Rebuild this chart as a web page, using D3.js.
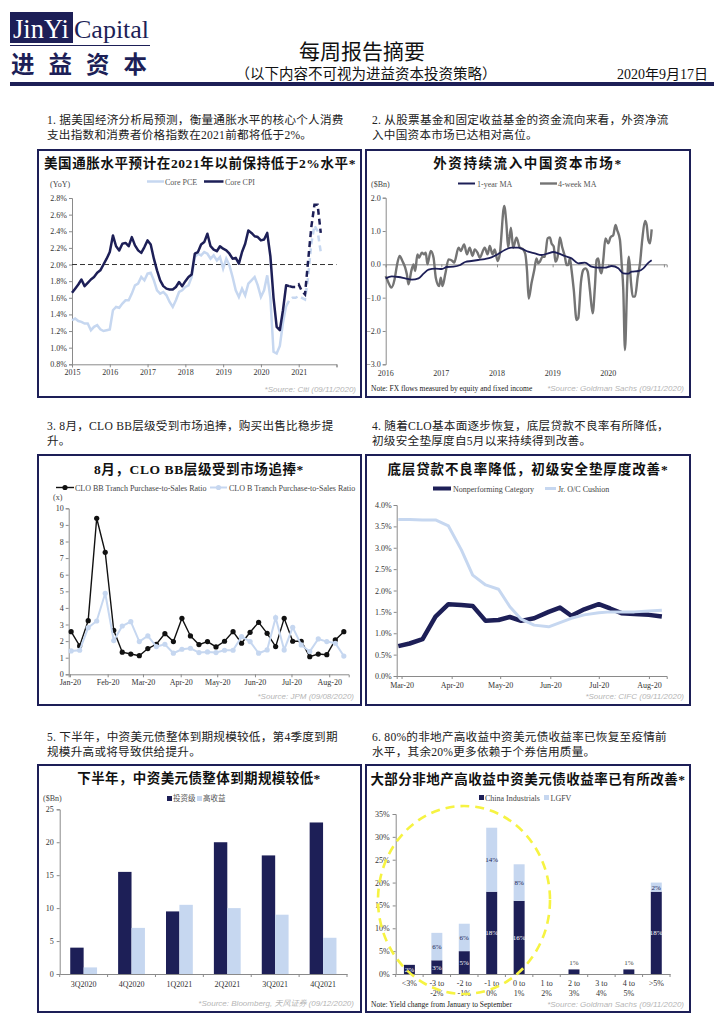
<!DOCTYPE html>
<html><head><meta charset="utf-8">
<script src="https://cdn.jsdelivr.net/npm/d3@7"></script>
<style>
body{margin:0;background:#fff;}
</style></head><body>
<svg id="page" width="724" height="1024"></svg>
<script>
// ---------------- DATA ----------------
// Chart 1: US core inflation, monthly from Jan 2015
const inflationStart = 2015;
const coreCPI = [1.66,1.71,1.76,1.82,1.74,1.78,1.82,1.85,1.90,1.93,2.00,2.07,
 2.15,2.35,2.22,2.17,2.25,2.26,2.22,2.33,2.23,2.17,2.14,2.21,
 2.29,2.24,2.07,1.93,1.81,1.74,1.71,1.70,1.70,1.73,1.79,1.74,
 1.80,1.85,1.88,2.13,2.15,2.24,2.27,2.37,2.22,2.18,2.16,2.22,
 2.19,2.17,2.13,2.07,2.08,2.01,2.15,2.25,2.41,2.38,2.34,2.33,
 2.29,2.30,2.38,2.10,1.60,1.25,1.21,1.45,1.75,1.74];
const coreCPIForecast = [1.74,1.73,1.73,1.76,1.68,1.64,2.05,2.45,2.72,2.72,2.38]; // from month 69
const corePCE = [1.33,1.35,1.32,1.31,1.29,1.29,1.21,1.25,1.27,1.22,1.20,1.21,
 1.22,1.45,1.49,1.48,1.53,1.57,1.57,1.65,1.75,1.77,1.85,1.81,
 1.89,1.90,1.81,1.69,1.65,1.67,1.63,1.55,1.49,1.57,1.67,1.69,
 1.73,1.75,1.85,2.09,2.13,2.11,2.15,2.13,2.07,2.11,2.05,2.09,
 1.95,2.07,1.99,1.85,1.69,1.61,1.71,1.63,1.77,1.81,1.85,1.75,
 1.61,1.69,1.87,1.60,0.95,0.93,1.02,1.30,1.50];
const corePCEForecast = [1.50,1.57,1.60,1.60,1.62,1.60,1.58,1.85,2.25,2.47,2.40,2.15]; // from month 68
const inflationYears = [2015,2016,2017,2018,2019,2020,2021,2022];
const inflationTicks = [0.8,1.0,1.2,1.4,1.6,1.8,2.0,2.2,2.4,2.6,2.8];

// Chart 2: foreign flows into China ($Bn)
const flow4wT = [2016.00,2016.05,2016.10,2016.16,2016.20,2016.25,2016.30,2016.35,2016.38,2016.41,
 2016.46,2016.50,2016.53,2016.57,2016.60,2016.65,2016.69,2016.72,2016.75,2016.81,
 2016.86,2016.90,2016.96,2016.99,2017.02,2017.07,2017.13,2017.20,2017.23,2017.31,
 2017.35,2017.41,2017.46,2017.51,2017.56,2017.60,2017.65,2017.69,2017.78,2017.83,
 2017.87,2017.92,2017.96,2018.01,2018.05,2018.13,2018.17,2018.20,2018.25,2018.29,
 2018.35,2018.41,2018.47,2018.51,2018.54,2018.57,2018.62,2018.67,2018.71,2018.74,
 2018.77,2018.82,2018.86,2018.91,2018.95,2018.98,2019.02,2019.05,2019.09,2019.13,
 2019.17,2019.22,2019.25,2019.28,2019.31,2019.34,2019.38,2019.43,2019.46,2019.51,
 2019.55,2019.59,2019.63,2019.67,2019.72,2019.76,2019.79,2019.82,2019.85,2019.88,
 2019.91,2019.95,2020.00,2020.04,2020.09,2020.13,2020.16,2020.21,2020.24,2020.27,
 2020.30,2020.34,2020.37,2020.41,2020.44,2020.48,2020.53,2020.57,2020.61,2020.66,
 2020.69,2020.72,2020.75,2020.78];
const flow4wV = [-0.35,-0.55,-0.70,-0.45,-0.05,0.25,0.10,-0.10,-0.30,-0.60,
 -0.20,0.00,-0.20,0.30,0.20,0.35,0.30,0.35,0.00,0.40,
 0.20,-0.40,-0.65,-0.40,-0.65,-0.30,0.15,0.10,0.05,0.50,
 0.40,0.60,0.30,0.50,0.25,0.45,0.35,0.20,0.50,0.30,
 0.55,0.30,0.45,0.10,0.30,1.75,1.20,0.50,1.10,0.50,
 0.80,0.50,0.45,0.30,-0.20,-1.03,-0.57,-0.17,0.18,0.03,
 0.08,0.23,0.23,0.78,0.81,0.63,0.53,0.08,0.23,0.81,
 0.53,0.23,-0.02,-0.02,0.18,-0.17,-0.77,-1.67,-1.62,-0.52,
 -0.17,-0.12,-0.22,-0.77,-1.47,-0.67,0.13,0.18,-0.17,-0.27,
 0.13,0.78,0.63,0.81,0.88,1.18,1.03,0.73,0.03,-0.77,
 -2.57,-0.57,0.23,-0.57,-0.97,-0.97,-0.37,0.03,0.73,1.30,
 1.18,0.73,0.63,1.05];
const flow1yT = [2016.00,2016.11,2016.23,2016.35,2016.47,2016.59,2016.68,2016.77,2016.89,
 2017.01,2017.10,2017.22,2017.34,2017.43,2017.54,2017.66,2017.78,2017.90,
 2018.02,2018.14,2018.26,2018.38,2018.47,2018.56,2018.68,2018.80,2018.92,
 2019.01,2019.10,2019.22,2019.34,2019.46,2019.58,2019.70,2019.82,2019.94,
 2020.06,2020.18,2020.27,2020.36,2020.42,2020.54,2020.63,2020.71,2020.78];
const flow1yV = [-0.42,-0.36,-0.38,-0.42,-0.46,-0.42,-0.28,-0.16,-0.13,
 -0.14,-0.08,-0.07,-0.02,0.07,0.10,0.13,0.16,0.21,
 0.31,0.43,0.50,0.50,0.45,0.38,0.33,0.28,0.33,
 0.37,0.33,0.25,0.18,0.03,0.05,-0.07,-0.10,-0.10,
 -0.05,-0.12,-0.27,-0.28,-0.22,-0.20,-0.12,0.03,0.12];
const flowYears = [2016,2017,2018,2019,2020];
const flowTicks = [-3,-2,-1,0,1,2];

// Chart 3: CLO purchase-to-sales ratio (weekly)
const cloDates = ["2020-01-02","2020-01-09","2020-01-16","2020-01-23","2020-01-30",
 "2020-02-06","2020-02-13","2020-02-20","2020-02-27","2020-03-05","2020-03-12","2020-03-19","2020-03-26",
 "2020-04-02","2020-04-09","2020-04-16","2020-04-23","2020-04-30","2020-05-07","2020-05-14","2020-05-21","2020-05-28",
 "2020-06-04","2020-06-11","2020-06-18","2020-06-25","2020-07-02","2020-07-09","2020-07-16","2020-07-23","2020-07-30",
 "2020-08-06","2020-08-13"];
const bbRatio = [2.57,1.71,3.23,9.40,7.35,2.65,1.33,1.22,1.12,1.55,1.81,2.45,1.97,3.37,2.31,1.79,1.97,1.65,1.99,2.57,
 1.87,2.53,3.13,2.47,1.67,3.37,1.99,1.99,1.06,1.22,1.18,2.07,2.57];
const bRatio = [1.41,1.45,2.81,3.21,4.88,2.03,2.91,3.17,1.97,2.31,1.67,1.81,1.27,1.51,1.57,1.31,1.35,1.31,1.45,1.45,
 2.27,1.97,1.27,1.47,3.41,1.47,2.83,1.77,1.37,2.13,1.97,1.87,1.10];
const cloTicks = [0,1,2,3,4,5,6,7,8,9,10];

// Chart 4: Nonperforming category vs Jr. O/C cushion (%)
const npDates = ["2020-02-28","2020-03-06","2020-03-14","2020-03-22","2020-03-30","2020-04-07","2020-04-14","2020-04-22",
 "2020-04-30","2020-05-07","2020-05-14","2020-05-22","2020-05-31","2020-06-07","2020-06-14","2020-06-22","2020-07-01",
 "2020-07-08","2020-07-15","2020-07-23","2020-08-01","2020-08-09"];
const nonperforming = [0.70,0.76,0.86,1.39,1.68,1.66,1.64,1.29,1.31,1.38,1.29,1.35,1.50,1.60,1.41,1.56,1.68,1.58,1.47,1.45,1.43,1.39];
const ocCushion = [3.66,3.66,3.65,3.65,3.51,2.95,2.36,2.13,2.03,1.62,1.33,1.19,1.15,1.25,1.35,1.43,1.48,1.50,1.50,1.50,1.52,1.54];
const npTicks = [0,0.5,1.0,1.5,2.0,2.5,3.0,3.5,4.0];

// Chart 5: maturities ($Bn)
const quarters = ["3Q2020","4Q2020","1Q2021","2Q2021","3Q2021","4Q2021"];
const investmentGrade = [4,15.5,9.5,20,18,23];
const highYield = [1,7,10.5,10,9,5.5];
const maturityTicks = [0,5,10,15,20,25];

// Chart 6: yield change distribution (%)
const yieldBuckets = [["<3%"],["-3 to","-2%"],["-2 to","-1%"],["-1 to","0%"],["0 to","1%"],["1 to","2%"],["2 to","3%"],["3 to","4%"],["4 to","5%"],[">5%"]];
const chinaIndustrials = [2,3,5,18,16,0,1,0,1,18];
const lgfv = [0,6,6,14,8,0,0,0,0,2];
const distTicks = [0,5,10,15,20,25,30,35];

// ---------------- DRAWING ----------------
const svg = d3.select('#page');
const NAVY = '#1d1f57', LIGHT = '#c6d7f0', AX = '#8a8a8a', TXT = '#333';
const SERIF = '"Liberation Serif","Noto Sans CJK SC",serif';
const SANS = '"Liberation Sans","Noto Sans CJK SC",sans-serif';

function text(x, y, s, o = {}) {
  const t = svg.append('text').attr('x', x).attr('y', y).text(s)
    .attr('font-family', o.family || SERIF)
    .attr('font-size', o.size || 8)
    .attr('fill', o.fill || TXT)
    .attr('text-anchor', o.anchor || 'start');
  if (o.weight) t.attr('font-weight', o.weight);
  if (o.style) t.attr('font-style', o.style);
  if (o.ls) t.attr('letter-spacing', o.ls);
  return t;
}
function styleAxis(g, fs) {
  g.attr('font-family', SERIF).attr('font-size', fs || 8);
  g.select('.domain').attr('stroke', AX);
  g.selectAll('.tick line').attr('stroke', AX);
  g.selectAll('.tick text').attr('fill', TXT);
}
function box(x, y, w, h) {
  svg.append('rect').attr('x', x).attr('y', y).attr('width', w).attr('height', h)
    .attr('fill', 'none').attr('stroke', NAVY).attr('stroke-width', 2);
}
function source(x, y, s) { text(x, y, s, {family: SANS, size: 8, fill: '#b5b5b5', style: 'italic', anchor: 'end'}); }
function title(x, y, s, ls) { text(x, y, s, {size: 13.5, weight: 'bold', fill: '#111', anchor: 'middle', ls: ls}); }
function hline(x1, x2, y, color, w, dash) {
  const l = svg.append('line').attr('x1', x1).attr('x2', x2).attr('y1', y).attr('y2', y)
    .attr('stroke', color).attr('stroke-width', w);
  if (dash) l.attr('stroke-dasharray', dash);
  return l;
}

// ----- Header -----
svg.append('rect').attr('x', 10).attr('y', 12).attr('width', 63).attr('height', 31).attr('fill', NAVY);
text(13, 38, 'JinYi', {size: 26.5, fill: '#fff'});
text(74, 38, 'Capital', {size: 26, fill: NAVY});
hline(10, 150, 45.5, NAVY, 1);
text(11, 73, '进益资本', {family: '"Noto Sans CJK SC",sans-serif', size: 23.5, fill: NAVY, weight: 'bold', ls: 14});
text(362, 59, '每周报告摘要', {size: 21, fill: '#111', anchor: 'middle'});
text(366, 79, '（以下内容不可视为进益资本投资策略）', {size: 14.5, fill: '#111', anchor: 'middle'});
text(708, 79, '2020年9月17日', {size: 14, fill: '#111', anchor: 'end'});
svg.append('rect').attr('x', 10).attr('y', 82).attr('width', 704).attr('height', 4).attr('fill', NAVY);

// ----- Paragraphs -----
const para = (x, y, lines) => lines.forEach((l, i) => text(x, y + i * 15, l, {size: 11.6, fill: '#222', ls: 0.25}));
para(47, 124, ['1. 据美国经济分析局预测，衡量通胀水平的核心个人消费', '支出指数和消费者价格指数在2021前都将低于2%。']);
para(372, 124, ['2. 从股票基金和固定收益基金的资金流向来看，外资净流', '入中国资本市场已达相对高位。']);
para(47, 430, ['3. 8月，CLO BB层级受到市场追捧，购买出售比稳步提', '升。']);
para(372, 430, ['4. 随着CLO基本面逐步恢复，底层贷款不良率有所降低，', '初级安全垫厚度自5月以来持续得到改善。']);
para(47, 741, ['5. 下半年，中资美元债整体到期规模较低，第4季度到期', '规模升高或将导致供给提升。']);
para(372, 741, ['6. 80%的非地产高收益中资美元债收益率已恢复至疫情前', '水平，其余20%更多依赖于个券信用质量。']);

// ----- Boxes -----
box(38, 150, 323, 247); box(366, 150, 324, 247);
box(38, 455, 323, 250); box(366, 455, 324, 250);
box(38, 765, 323, 247); box(366, 765, 324, 247);

// ===== Chart 1 =====
{
  const x = d3.scaleLinear().domain([2015, 2022]).range([72, 336.5]);
  const y = d3.scaleLinear().domain([0.8, 2.8]).range([364.3, 198]);
  title(200, 168, '美国通胀水平预计在2021年以前保持低于2%水平*', 0.6);
  svg.append('g').attr('transform', 'translate(72,0)')
    .call(d3.axisLeft(y).tickValues(inflationTicks).tickFormat(d => d.toFixed(1) + '%').tickSize(3).tickPadding(2))
    .call(styleAxis);
  svg.append('g').attr('transform', `translate(0,${y(0.8)})`)
    .call(d3.axisBottom(x).tickValues(inflationYears).tickFormat(d => d === 2022 ? '' : d).tickSize(3).tickPadding(2))
    .call(styleAxis);
  hline(x(2015), x(2022), y(2.0), '#333', 1, '5,3');
  const mx = i => x(inflationStart + i / 12);
  const line = off => d3.line().x((d, i) => mx(i + off)).y(d => y(d));
  svg.append('path').datum(corePCE).attr('d', line(0)).attr('fill', 'none').attr('stroke', LIGHT).attr('stroke-width', 2.5);
  svg.append('path').datum(corePCEForecast).attr('d', line(68)).attr('fill', 'none').attr('stroke', LIGHT).attr('stroke-width', 2.5).attr('stroke-dasharray', '6,4');
  svg.append('path').datum(coreCPI).attr('d', line(0)).attr('fill', 'none').attr('stroke', NAVY).attr('stroke-width', 2.5).attr('stroke-linejoin', 'round');
  svg.append('path').datum(coreCPIForecast).attr('d', line(69)).attr('fill', 'none').attr('stroke', NAVY).attr('stroke-width', 2.5).attr('stroke-dasharray', '6,4');
  hline(147, 164, 181.5, LIGHT, 2.5);
  text(165, 184.5, 'Core PCE', {size: 8, fill: '#555'});
  hline(204, 223.5, 181.5, NAVY, 2.5);
  text(225, 184.5, 'Core CPI', {size: 8, fill: '#555'});
  text(50, 187, '(YoY)', {size: 8, fill: '#444'});
  source(356, 392, '*Source: Citi (09/11/2020)');
}

// ===== Chart 2 =====
{
  const x = d3.scaleLinear().domain([2016, 2021.05]).range([385.7, 666.7]);
  const y = d3.scaleLinear().domain([-3, 2]).range([364.3, 197.7]);
  title(528, 168, '外资持续流入中国资本市场*', 1.6);
  svg.append('g').attr('transform', 'translate(385.7,0)')
    .call(d3.axisLeft(y).tickValues(flowTicks).tickSize(3).tickPadding(2))
    .call(styleAxis);
  svg.append('g').attr('transform', `translate(0,${y(0)})`)
    .call(d3.axisBottom(x).tickValues([2016, 2017, 2018, 2019, 2020, 2021]).tickFormat('').tickSize(3))
    .call(styleAxis);
  flowYears.forEach(yr => text(x(yr), 376, yr, {size: 8, anchor: 'middle'}));
  const pts4 = flow4wT.map((t, i) => [t, flow4wV[i]]);
  const pts1 = flow1yT.map((t, i) => [t, flow1yV[i]]);
  const ln = d3.line().x(d => x(d[0])).y(d => y(d[1])).curve(d3.curveMonotoneX);
  svg.append('path').datum(pts4).attr('d', ln).attr('fill', 'none').attr('stroke', '#747474').attr('stroke-width', 2.4).attr('stroke-linejoin', 'round');
  svg.append('path').datum(pts1).attr('d', ln).attr('fill', 'none').attr('stroke', NAVY).attr('stroke-width', 1.8);
  hline(458, 475, 183.5, NAVY, 2);
  text(477, 186.5, '1-year MA', {size: 8, fill: '#555'});
  hline(540, 557, 183.5, '#747474', 2.4);
  text(558, 186.5, '4-week MA', {size: 8, fill: '#555'});
  text(371, 186.5, '($Bn)', {size: 8, fill: '#444'});
  text(371, 391, 'Note: FX flows measured by equity and fixed  income', {size: 7.5, fill: '#222'});
  source(684, 391, '*Source: Goldman Sachs (09/11/2020)');
}

// ===== Chart 3 =====
{
  const parse = d3.timeParse('%Y-%m-%d');
  const x = d3.scaleTime().domain([new Date(2019, 11, 31), new Date(2020, 7, 17)]).range([68.7, 348.7]);
  const y = d3.scaleLinear().domain([0, 10]).range([674.3, 508.3]);
  title(199, 474, '8月，CLO BB层级受到市场追捧*', 0.6);
  svg.append('g').attr('transform', 'translate(68.7,0)')
    .call(d3.axisLeft(y).tickValues(cloTicks).tickSize(3).tickPadding(2))
    .call(styleAxis);
  svg.append('g').attr('transform', `translate(0,${y(0)})`)
    .call(d3.axisBottom(x).ticks(d3.timeMonth.every(1)).tickFormat(d3.timeFormat('%b-%y')).tickSize(3).tickPadding(2))
    .call(styleAxis);
  const bb = cloDates.map((d, i) => [parse(d), bbRatio[i]]);
  const b = cloDates.map((d, i) => [parse(d), bRatio[i]]);
  const ln = d3.line().x(d => x(d[0])).y(d => y(d[1]));
  svg.append('path').datum(bb).attr('d', ln).attr('fill', 'none').attr('stroke', '#111').attr('stroke-width', 1.4);
  svg.selectAll('.bbdot').data(bb).enter().append('circle').attr('cx', d => x(d[0])).attr('cy', d => y(d[1])).attr('r', 2.6).attr('fill', '#111');
  svg.append('path').datum(b).attr('d', ln).attr('fill', 'none').attr('stroke', LIGHT).attr('stroke-width', 2);
  svg.selectAll('.bdot').data(b).enter().append('circle').attr('cx', d => x(d[0])).attr('cy', d => y(d[1])).attr('r', 2.6).attr('fill', LIGHT);
  hline(56, 74, 487.5, '#111', 1.4);
  svg.append('circle').attr('cx', 65).attr('cy', 487.5).attr('r', 2.6).attr('fill', '#111');
  text(75, 490.5, 'CLO BB Tranch Purchase-to-Sales Ratio', {size: 8, fill: '#444'});
  hline(210, 227, 487.5, LIGHT, 2);
  svg.append('circle').attr('cx', 218.5).attr('cy', 487.5).attr('r', 2.6).attr('fill', LIGHT);
  text(229, 490.5, 'CLO B Tranch Purchase-to-Sales Ratio', {size: 8, fill: '#444'});
  text(53, 499.5, '(x)', {size: 8, fill: '#444'});
  source(354, 699, '*Source: JPM (09/08/2020)');
}

// ===== Chart 4 =====
{
  const parse = d3.timeParse('%Y-%m-%d');
  const x = d3.scaleTime().domain([new Date(2020, 1, 27), new Date(2020, 7, 12)]).range([396.7, 666.7]);
  const y = d3.scaleLinear().domain([0, 4]).range([676, 505]);
  title(528, 474, '底层贷款不良率降低，初级安全垫厚度改善*', 0.9);
  svg.append('g').attr('transform', 'translate(396.7,0)')
    .call(d3.axisLeft(y).tickValues(npTicks).tickFormat(d => d.toFixed(1) + '%').tickSize(3).tickPadding(2))
    .call(styleAxis);
  svg.append('g').attr('transform', `translate(0,${y(0)})`)
    .call(d3.axisBottom(x).ticks(d3.timeMonth.every(1)).tickFormat(d3.timeFormat('%b-%y')).tickSize(3).tickPadding(3))
    .call(styleAxis);
  const np = npDates.map((d, i) => [parse(d), nonperforming[i]]);
  const oc = npDates.map((d, i) => [parse(d), ocCushion[i]]);
  const ln = d3.line().x(d => x(d[0])).y(d => y(d[1]));
  svg.append('path').datum(np).attr('d', ln).attr('fill', 'none').attr('stroke', NAVY).attr('stroke-width', 4.5).attr('stroke-linejoin', 'round');
  svg.append('path').datum(oc).attr('d', ln).attr('fill', 'none').attr('stroke', LIGHT).attr('stroke-width', 3).attr('stroke-linejoin', 'round');
  hline(433, 451, 488.5, NAVY, 4);
  text(453, 491.5, 'Nonperforming Category', {size: 8, fill: '#444'});
  hline(545, 556, 488.5, LIGHT, 3);
  text(558, 491.5, 'Jr. O/C Cushion', {size: 8, fill: '#444'});
  source(684, 699, '*Source: CIFC (09/11/2020)');
}

// ===== Chart 5 =====
{
  const x = d3.scaleBand().domain(quarters).range([59.7, 347]);
  const y = d3.scaleLinear().domain([0, 25]).range([974, 809.3]);
  title(199, 783, '下半年，中资美元债整体到期规模较低*', 0.4);
  svg.append('g').attr('transform', 'translate(59.7,0)')
    .call(d3.axisLeft(y).tickValues(maturityTicks).tickSize(3).tickPadding(3))
    .call(styleAxis);
  const bw = x.bandwidth();
  svg.selectAll('.ig').data(quarters).enter().append('rect')
    .attr('x', d => x(d) + bw * 0.22).attr('width', bw * 0.28)
    .attr('y', (d, i) => y(investmentGrade[i])).attr('height', (d, i) => y(0) - y(investmentGrade[i])).attr('fill', NAVY);
  svg.selectAll('.hy').data(quarters).enter().append('rect')
    .attr('x', d => x(d) + bw * 0.5).attr('width', bw * 0.28)
    .attr('y', (d, i) => y(highYield[i])).attr('height', (d, i) => y(0) - y(highYield[i])).attr('fill', LIGHT);
  svg.append('g').attr('transform', `translate(0,${y(0)})`)
    .call(d3.axisBottom(x).tickSize(0).tickPadding(7))
    .call(styleAxis);
  quarters.forEach((q, i) => svg.append('line').attr('x1', x(q)).attr('x2', x(q)).attr('y1', y(0)).attr('y2', y(0) + 3).attr('stroke', AX));
  svg.append('line').attr('x1', 347).attr('x2', 347).attr('y1', y(0)).attr('y2', y(0) + 3).attr('stroke', AX);
  svg.append('rect').attr('x', 167).attr('y', 796).attr('width', 5).attr('height', 5).attr('fill', NAVY);
  text(173, 801, '投资级', {family: '"Noto Sans CJK SC",sans-serif', size: 7.5, fill: '#555'});
  svg.append('rect').attr('x', 197).attr('y', 796).attr('width', 5).attr('height', 5).attr('fill', LIGHT);
  text(203, 801, '高收益', {family: '"Noto Sans CJK SC",sans-serif', size: 7.5, fill: '#555'});
  text(43, 801, '($Bn)', {size: 8, fill: '#444'});
  source(354, 1006, '*Source: Bloomberg, 天风证券 (09/12/2020)');
}

// ===== Chart 6 =====
{
  const keys = yieldBuckets.map(d => d.join(' '));
  const x = d3.scaleBand().domain(keys).range([395.7, 670]);
  const y = d3.scaleLinear().domain([0, 35]).range([974, 814]);
  title(528, 784, '大部分非地产高收益中资美元债收益率已有所改善*', 0.5);
  svg.append('g').attr('transform', 'translate(395.7,0)')
    .call(d3.axisLeft(y).tickValues(distTicks).tickFormat(d => d + '%').tickSize(3).tickPadding(3))
    .call(styleAxis);
  const bw = x.bandwidth(), w = bw * 0.4;
  const bx = k => x(k) + (bw - w) / 2;
  svg.selectAll('.ci').data(keys).enter().append('rect')
    .attr('x', bx).attr('width', w)
    .attr('y', (d, i) => y(chinaIndustrials[i])).attr('height', (d, i) => y(0) - y(chinaIndustrials[i])).attr('fill', NAVY);
  svg.selectAll('.lg').data(keys).enter().append('rect')
    .attr('x', bx).attr('width', w)
    .attr('y', (d, i) => y(chinaIndustrials[i] + lgfv[i])).attr('height', (d, i) => y(chinaIndustrials[i]) - y(chinaIndustrials[i] + lgfv[i])).attr('fill', LIGHT);
  keys.forEach((k, i) => {
    const cx = x(k) + bw / 2;
    const c = chinaIndustrials[i], l = lgfv[i];
    if (c > 1) text(cx, y(c / 2) + 2.5, c + '%', {size: 7, fill: '#fff', anchor: 'middle'});
    else if (c === 1) text(cx, y(c) - 4, c + '%', {size: 7, fill: '#444', anchor: 'middle'});
    if (l > 0) text(cx, y(c + l / 2) + 2.5, l + '%', {size: 7, fill: NAVY, anchor: 'middle'});
  });
  svg.append('g').attr('transform', `translate(0,${y(0)})`)
    .call(d3.axisBottom(x).tickSize(0).tickFormat(''))
    .call(styleAxis);
  keys.forEach(k => svg.append('line').attr('x1', x(k)).attr('x2', x(k)).attr('y1', y(0)).attr('y2', y(0) + 3).attr('stroke', AX));
  svg.append('line').attr('x1', 670).attr('x2', 670).attr('y1', y(0)).attr('y2', y(0) + 3).attr('stroke', AX);
  yieldBuckets.forEach((lines, i) => {
    const cx = x(keys[i]) + bw / 2;
    lines.forEach((s, j) => text(cx, 986 + j * 9.5, s, {size: 8, anchor: 'middle'}));
  });
  svg.append('rect').attr('x', 479).attr('y', 795).attr('width', 5).attr('height', 5).attr('fill', NAVY);
  text(485, 800.5, 'China Industrials', {size: 8, fill: '#444'});
  svg.append('rect').attr('x', 544).attr('y', 795).attr('width', 5).attr('height', 5).attr('fill', LIGHT);
  text(550.5, 800.5, 'LGFV', {size: 8, fill: '#444'});
  svg.append('ellipse').attr('cx', 464).attr('cy', 900).attr('rx', 86).attr('ry', 94)
    .attr('fill', 'none').attr('stroke', '#f6f342').attr('stroke-width', 2.6).attr('stroke-dasharray', '9,6');
  text(371, 1007, 'Note: Yield change from January to September', {size: 7.5, fill: '#222'});
  source(684, 1007, '*Source: Goldman Sachs (09/11/2020)');
}
</script>
</body></html>
